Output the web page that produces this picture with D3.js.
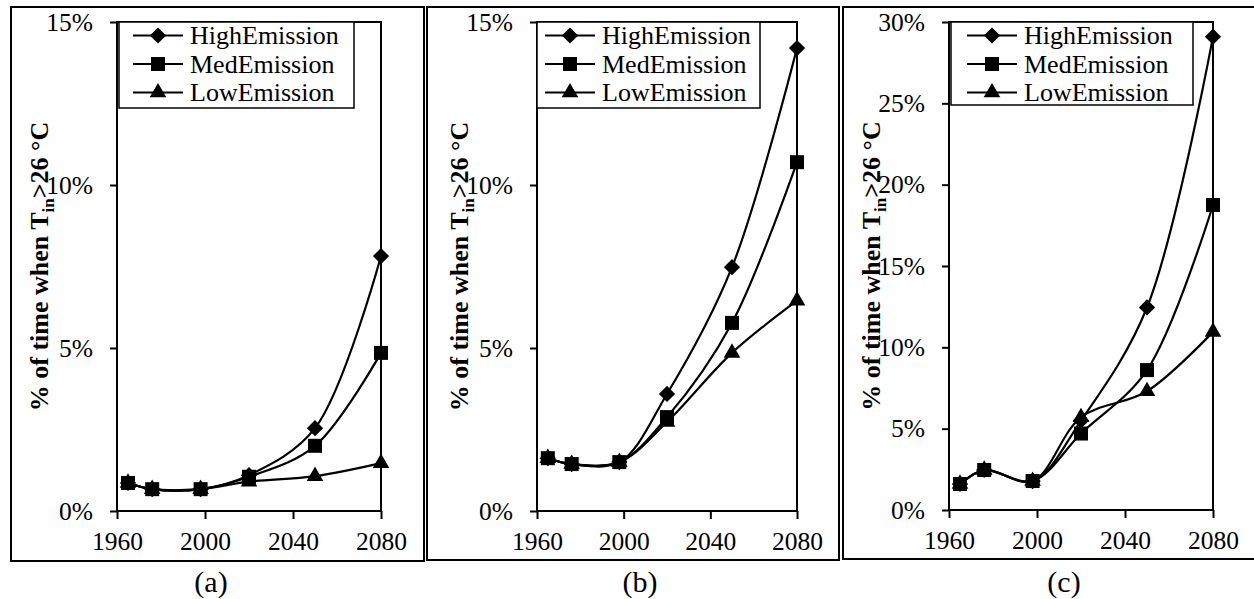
<!DOCTYPE html>
<html>
<head>
<meta charset="utf-8">
<script src="https://cdn.jsdelivr.net/npm/d3@7"></script>
<style>
  body { margin: 0; background: #fff; }
  svg { display: block; font-family: "Liberation Serif", "Times New Roman", serif; }
</style>
</head>
<body>
<svg width="1254" height="599"></svg>
<script>
// years of the simulated periods
const years = [1965, 1976, 1998, 2020, 2050, 2080];
const seriesNames = ['HighEmission', 'MedEmission', 'LowEmission'];

// % of time when Tin > 26 C, panel (a)
const highA = [0.86, 0.67, 0.67, 1.10, 2.54, 7.82];
const medA  = [0.86, 0.67, 0.67, 1.05, 2.00, 4.85];
const lowA  = [0.86, 0.67, 0.67, 0.90, 1.07, 1.47];
// panel (b)
const highB = [1.62, 1.44, 1.50, 3.59, 7.48, 14.20];
const medB  = [1.62, 1.44, 1.50, 2.88, 5.77, 10.70];
const lowB  = [1.62, 1.44, 1.50, 2.73, 4.85, 6.45];
// panel (c)
const highC = [1.60, 2.46, 1.78, 5.50, 12.45, 29.10];
const medC  = [1.60, 2.46, 1.78, 4.70, 8.60, 18.75];
const lowC  = [1.60, 2.46, 1.78, 5.70, 7.30, 10.95];

const xTicks = [1960, 2000, 2040, 2080];
const yTicksAB = [0, 5, 10, 15];
const yTicksC = [0, 5, 10, 15, 20, 25, 30];
const panelLabels = ['(a)', '(b)', '(c)'];

// layout of each panel (pixels)
const panels = [
  {label: panelLabels[0], yMax: 15, yTicks: yTicksAB, series: [highA, medA, lowA],
   frame: [11, 7, 424, 561], plot: [117, 22, 381, 511], leg: {x: 119, w: 235, h: 86, pad: 14}, labelX: 211},
  {label: panelLabels[1], yMax: 15, yTicks: yTicksAB, series: [highB, medB, lowB],
   frame: [427, 7, 839, 560], plot: [537, 22, 797, 511], leg: {x: 537, w: 223, h: 86, pad: 8}, labelX: 640},
  {label: panelLabels[2], yMax: 30, yTicks: yTicksC, series: [highC, medC, lowC],
   frame: [843, 7, 1262, 559], plot: [949, 22, 1213, 510], leg: {x: 951, w: 242, h: 83, pad: 16}, labelX: 1064}
];

const symbols = [
  d3.symbol().type(d3.symbolSquare).size(132),   // diamond = rotated square
  d3.symbol().type(d3.symbolSquare).size(196),
  d3.symbol().type(d3.symbolTriangle).size(120)
];
const rotations = [45, 0, 0];

const svg = d3.select('svg');

panels.forEach(p => {
  const g = svg.append('g');

  // outer frame
  g.append('rect')
    .attr('x', p.frame[0]).attr('y', p.frame[1])
    .attr('width', p.frame[2] - p.frame[0]).attr('height', p.frame[3] - p.frame[1])
    .attr('fill', 'none').attr('stroke', '#000').attr('stroke-width', 2);

  const x = d3.scaleLinear().domain([1960, 2080]).range([p.plot[0], p.plot[2]]);
  const y = d3.scaleLinear().domain([0, p.yMax]).range([p.plot[3], p.plot[1]]);

  // plot area border
  g.append('rect')
    .attr('x', p.plot[0]).attr('y', p.plot[1])
    .attr('width', p.plot[2] - p.plot[0]).attr('height', p.plot[3] - p.plot[1])
    .attr('fill', 'none').attr('stroke', '#000').attr('stroke-width', 2);

  const xAxis = g.append('g')
    .attr('transform', `translate(0,${p.plot[3]})`)
    .call(d3.axisBottom(x).tickValues(xTicks).tickFormat(d3.format('d')).tickSize(8).tickSizeOuter(0).tickPadding(13));
  const yAxis = g.append('g')
    .attr('transform', `translate(${p.plot[0]},0)`)
    .call(d3.axisLeft(y).tickValues(p.yTicks).tickFormat(d => d + '%').tickSize(7).tickSizeOuter(0).tickPadding(17));

  [xAxis, yAxis].forEach(a => {
    a.select('.domain').remove();
    a.selectAll('line').attr('stroke', '#000').attr('stroke-width', 2);
    a.selectAll('text').attr('font-family', '"Liberation Serif", "Times New Roman", serif')
      .attr('font-size', 25.5).attr('fill', '#000');
  });

  // y axis title
  const cy = (p.plot[1] + p.plot[3]) / 2;
  const title = g.append('text')
    .attr('transform', `translate(${p.plot[0] - 69},${cy}) rotate(-90)`)
    .attr('text-anchor', 'middle')
    .attr('font-weight', 'bold')
    .attr('font-size', 26);
  title.append('tspan').text('% of time when T');
  title.append('tspan').attr('font-size', 17).attr('dy', 6).text('in');
  title.append('tspan').attr('dy', -6).text('>26 °C');

  // legend
  const lg = g.append('g');
  lg.append('rect')
    .attr('x', p.leg.x).attr('y', p.plot[1])
    .attr('width', p.leg.w).attr('height', p.leg.h)
    .attr('fill', '#fff').attr('stroke', '#000').attr('stroke-width', 1.5);
  seriesNames.forEach((name, i) => {
    const ry = p.plot[1] + 13.5 + i * 28.5;
    const lx = p.leg.x + p.leg.pad;
    lg.append('line')
      .attr('x1', lx).attr('x2', lx + 50).attr('y1', ry).attr('y2', ry)
      .attr('stroke', '#000').attr('stroke-width', 2.2);
    lg.append('path')
      .attr('d', symbols[i]())
      .attr('transform', `translate(${lx + 25},${ry}) rotate(${rotations[i]})`)
      .attr('fill', '#000');
    lg.append('text')
      .attr('x', lx + 57).attr('y', ry).attr('dy', '0.33em')
      .attr('font-size', 26).text(name);
  });

  // series
  const line = d3.line()
    .x((d, i) => x(years[i]))
    .y(d => y(d))
    .curve(d3.curveCatmullRom.alpha(0.5));

  p.series.forEach((vals, s) => {
    g.append('path')
      .datum(vals)
      .attr('d', line)
      .attr('fill', 'none').attr('stroke', '#000').attr('stroke-width', 2.2);
  });
  p.series.forEach((vals, s) => {
    g.selectAll(null)
      .data(vals)
      .enter()
      .append('path')
      .attr('d', symbols[s]())
      .attr('transform', (d, i) => `translate(${x(years[i])},${y(d)}) rotate(${rotations[s]})`)
      .attr('fill', '#000');
  });

  // panel label
  g.append('text')
    .attr('x', p.labelX).attr('y', 592)
    .attr('text-anchor', 'middle')
    .attr('font-size', 30)
    .text(p.label);
});
</script>
</body>
</html>
